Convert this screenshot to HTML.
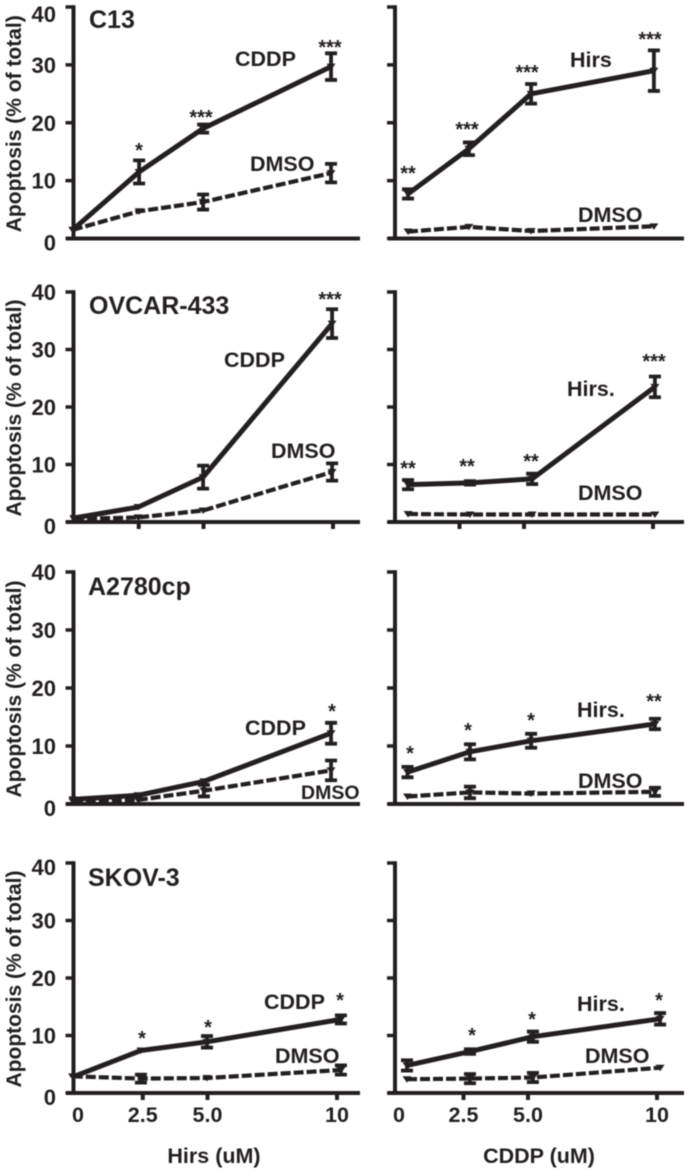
<!DOCTYPE html>
<html lang="en">
<head>
<meta charset="utf-8">
<title>Apoptosis dose-response panels</title>
<style>
html,body{margin:0;padding:0;background:#fff;}
svg{display:block;filter:blur(0.4px);}
text{font-family:"Liberation Sans",sans-serif;font-weight:bold;fill:#231f20;}
</style>
</head>
<body>
<svg id="figure" width="688" height="1172" viewBox="0 0 688 1172" xmlns="http://www.w3.org/2000/svg">
  <g id="marks"></g>

  <g font-size="25">
    <text x="89" y="28">C13</text>
    <text x="89" y="314">OVCAR-433</text>
    <text x="88" y="595">A2780cp</text>
    <text x="88" y="886">SKOV-3</text>
  </g>

  <g font-size="21.5">
    <text x="235" y="66">CDDP</text>
    <text x="250" y="171">DMSO</text>
    <text x="570" y="67">Hirs</text>
    <text x="578" y="222">DMSO</text>
    <text x="224" y="367">CDDP</text>
    <text x="271" y="458">DMSO</text>
    <text x="567" y="396">Hirs.</text>
    <text x="578" y="500">DMSO</text>
    <text x="245" y="735">CDDP</text>
    <text x="301" y="799" font-size="19.5">DMSO</text>
    <text x="577" y="717">Hirs.</text>
    <text x="578" y="788">DMSO</text>
    <text x="264" y="1009">CDDP</text>
    <text x="275" y="1063">DMSO</text>
    <text x="577" y="1011">Hirs.</text>
    <text x="585" y="1063">DMSO</text>
  </g>

  <g font-size="20" text-anchor="middle">
    <text x="139" y="157">*</text>
    <text x="201" y="124">***</text>
    <text x="330" y="54">***</text>
    <text x="408" y="180">**</text>
    <text x="467" y="136">***</text>
    <text x="527" y="79">***</text>
    <text x="650" y="46">***</text>
    <text x="330" y="306">***</text>
    <text x="408" y="475">**</text>
    <text x="467" y="473">**</text>
    <text x="531" y="468">**</text>
    <text x="654" y="368">***</text>
    <text x="332" y="718">*</text>
    <text x="410" y="760">*</text>
    <text x="468" y="737">*</text>
    <text x="531" y="727">*</text>
    <text x="654" y="708">**</text>
    <text x="142" y="1045">*</text>
    <text x="208" y="1034">*</text>
    <text x="340" y="1007">*</text>
    <text x="472" y="1042">*</text>
    <text x="532" y="1026">*</text>
    <text x="659" y="1007">*</text>
  </g>

  <text x="214" y="1163" font-size="21.5" text-anchor="middle">Hirs (uM)</text>
  <text x="539" y="1163" font-size="21.5" text-anchor="middle">CDDP (uM)</text>
</svg>

<script>
// Axis tick values and labels
const yTicks = [0, 10, 20, 30, 40];
const xTicks = [0, 2.5, 5, 10];
const xTickLabels = ["0", "2.5", "5.0", "10"];
const yAxisTitle = "Apoptosis (% of total)";

// Panels run left-to-right, top-to-bottom: C13, OVCAR-433, A2780cp, SKOV-3 (Hirs then CDDP titration)
const doses = [
  [-0.2, 2.36, 4.83, 9.77], [0.35, 2.71, 5.12, 9.88],
  [-0.15, 2.32, 4.83, 9.81], [0.35, 2.75, 5.16, 9.92],
  [-0.2, 2.32, 4.86, 9.77], [0.33, 2.75, 5.12, 9.92],
  [-0.2, 2.43, 4.98, 10.15], [0.31, 2.75, 5.19, 10.12]
];
const treatedValues = [
  [1.5, 11.5, 19, 29.7], [7.7, 15.5, 25, 29],
  [0.7, 2.6, 7.8, 34.5], [6.5, 6.8, 7.5, 23.5],
  [0.8, 1.5, 3.9, 12.2], [5.5, 9, 10.9, 13.8],
  [2.8, 7.4, 8.9, 12.8], [4.8, 7.2, 9.8, 12.9]
];
const treatedErrors = [
  [0, 2, 0.7, 2.3], [0.8, 1.1, 1.7, 3.5],
  [0, 0, 2, 2.5], [0.8, 0.3, 0.9, 1.8],
  [0, 0, 0, 1.8], [0.9, 1.3, 1.2, 0.9],
  [0, 0, 1, 0.7], [0.9, 0.4, 0.9, 1]
];
const dmsoValues = [
  [1.5, 4.7, 6.3, 11.3], [1.2, 2, 1.3, 2.1],
  [0.5, 0.8, 2, 8.7], [1.4, 1.3, 1.3, 1.3],
  [0.5, 0.7, 2.3, 5.8], [1.3, 2, 1.8, 2.1],
  [2.9, 2.5, 2.6, 4], [2.4, 2.5, 2.7, 4.4]
];
const dmsoErrors = [
  [0, 0, 1.3, 1.6], [0, 0, 0, 0],
  [0, 0, 0, 1.5], [0, 0, 0, 0],
  [0, 0, 1, 1.7], [0, 1, 0, 0.7],
  [0, 0.7, 0, 0.8], [0, 0.8, 0.8, 0]
];
const panelNames = ["c13-hirs", "c13-cddp", "ovcar-hirs", "ovcar-cddp", "a2780-hirs", "a2780-cddp", "skov-hirs", "skov-cddp"];

const INK = "#231f20";
const SVG_NS = "http://www.w3.org/2000/svg";
const marks = document.getElementById("marks");

function rowFrame(row) {
  return {
    top: [7, 292, 572, 863][row],
    bottom: [238.5, 522, 804, 1093][row],
    hasXTicks: row === 1 || row === 3,
    labelled: row === 3,
    tickShift: row === 1 ? -4 : 0
  };
}
function colFrame(col) {
  return col === 0
    ? { axisX: 73.5, left: 66, right: 360, originX: 78, perDose: 25.9 }
    : { axisX: 395, left: 388, right: 684, originX: 399, perDose: 25.8 };
}
function xScale(frame, dose) { return frame.originX + frame.perDose * dose; }
function yScale(frame, value) { return frame.bottom - (frame.bottom - frame.top) * value / 40; }

function draw(parent, tag, props) {
  const el = document.createElementNS(SVG_NS, tag);
  for (const key in props) el.setAttribute(key, props[key]);
  parent.appendChild(el);
  return el;
}

function seriesLayer(parent, fx, fy, ds, vals, errs, dashed, name) {
  const group = draw(parent, "g", {});
  
  
  const pts = ds.map(function (d, i) { return xScale(fx, d).toFixed(1) + "," + yScale(fy, vals[i]).toFixed(1); }).join(" ");
  const props = { points: pts, fill: "none", stroke: INK, "stroke-width": dashed ? 4.2 : 5, "stroke-linejoin": "round" };
  if (dashed) props["stroke-dasharray"] = "10 3";
  const line = draw(group, "polyline", props);
  
  
  ds.forEach(function (d, i) {
    const cx = xScale(fx, d), cy = yScale(fy, vals[i]);
    const marker = draw(group, "path", { d: "M" + (cx - 4.5) + " " + (cy - 3) + "H" + (cx + 4.5) + "L" + cx + " " + (cy + 3.5) + "Z", fill: INK });
    
    
    if (errs[i] > 0) {
      const hi = yScale(fy, vals[i] + errs[i]), lo = yScale(fy, vals[i] - errs[i]);
      const bar = draw(group, "path", {
        d: "M" + cx + " " + hi + "V" + lo + "M" + (cx - 6) + " " + hi + "H" + (cx + 6) + "M" + (cx - 6) + " " + lo + "H" + (cx + 6),
        stroke: INK, "stroke-width": 3.8, fill: "none"
      });
      
      
    }
  });
}

panelNames.forEach(function (name, p) {
  const row = Math.floor(p / 2), col = p % 2;
  const fy = rowFrame(row), fx = colFrame(col);
  const panel = draw(marks, "g", {});
  
  

  // Axes
  const yAxis = draw(panel, "line", { x1: fx.axisX, x2: fx.axisX, y1: fy.top - 1.8, y2: fy.bottom, stroke: INK, "stroke-width": 4 });
  
  
  const xAxis = draw(panel, "line", { x1: fx.left, x2: fx.right, y1: fy.bottom, y2: fy.bottom, stroke: INK, "stroke-width": 4 });
  
  

  yTicks.forEach(function (t) {
    const ty = yScale(fy, t);
    const tick = draw(panel, "line", { x1: fx.axisX - 8, x2: fx.axisX, y1: ty, y2: ty, stroke: INK, "stroke-width": 3.5 });
    
    
    if (col === 0) {
      let nudge = t === 0 ? 4 : 0;
      if (row === 0 && t === 40) nudge = 7;
      if (row === 3 && t === 40) nudge = 4;
      const label = draw(panel, "text", { x: 56, y: ty + nudge + 8, "font-size": 22, "text-anchor": "end" });
      label.textContent = String(t);
      
      
    }
  });

  if (fy.hasXTicks) {
    xTicks.forEach(function (t) {
      if (t === 0) return;
      const tx = xScale(fx, t) + fy.tickShift;
      const tick = draw(panel, "line", { x1: tx, x2: tx, y1: fy.bottom, y2: fy.bottom + 7, stroke: INK, "stroke-width": 4 });
      
      
    });
  }
  if (fy.labelled) {
    xTicks.forEach(function (t, i) {
      const label = draw(panel, "text", { x: xScale(fx, t), y: 1122, "font-size": 21.5, "text-anchor": "middle" });
      label.textContent = xTickLabels[i];
      
      
    });
  }

  if (col === 0) {
    const midY = (fy.top + fy.bottom) / 2 + 1;
    const title = draw(panel, "text", { x: 0, y: 0, "font-size": 21, "text-anchor": "middle", transform: "translate(21 " + midY + ") rotate(-90)" });
    title.textContent = yAxisTitle;
    
    
  }

  seriesLayer(panel, fx, fy, doses[p], dmsoValues[p], dmsoErrors[p], true, name + '-dmso');
  seriesLayer(panel, fx, fy, doses[p], treatedValues[p], treatedErrors[p], false, name + '-treated');
});
</script>
</body>
</html>
